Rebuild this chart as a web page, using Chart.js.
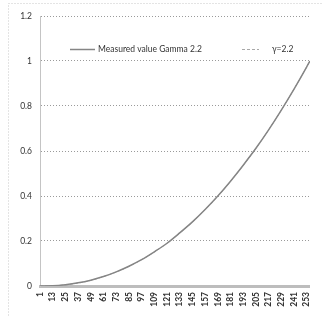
<!DOCTYPE html>
<html>
<head>
<meta charset="utf-8">
<script src="https://cdn.jsdelivr.net/npm/chart.js@4"></script>
<style>
  html, body { margin: 0; padding: 0; background: #fff; }
  #wrap { position: relative; width: 323px; height: 316px; }
</style>
</head>
<body>
<div id="wrap"><canvas id="gammaChart" width="323" height="316"></canvas></div>
<script>
const inputLevels = [1, 13, 25, 37, 49, 61, 73, 85, 97, 109, 121, 133, 145, 157, 169, 181, 193, 205, 217, 229, 241, 253, 256];
const measuredValues = [0, 0.001, 0.006, 0.014, 0.026, 0.042, 0.063, 0.088, 0.117, 0.152, 0.19, 0.236, 0.285, 0.34, 0.4, 0.466, 0.537, 0.612, 0.694, 0.782, 0.875, 0.974, 1];
const gammaValues = [0, 0.001, 0.005, 0.013, 0.025, 0.042, 0.062, 0.087, 0.117, 0.151, 0.19, 0.235, 0.284, 0.339, 0.399, 0.465, 0.536, 0.612, 0.694, 0.782, 0.875, 0.974, 1];
const xTickLabels = [1, 13, 25, 37, 49, 61, 73, 85, 97, 109, 121, 133, 145, 157, 169, 181, 193, 205, 217, 229, 241, 253];
const yTickLabels = [0, 0.2, 0.4, 0.6, 0.8, 1, 1.2];

const FONT = 'Lato, "DejaVu Sans", sans-serif';

// dotted outer frame like the Excel chart area
const framePlugin = {
    id: 'frame',
    beforeDraw(chart) {
        const ctx = chart.ctx;
        ctx.save();
        ctx.strokeStyle = '#c8c8c8';
        ctx.lineWidth = 1;
        ctx.setLineDash([1, 2]);
        ctx.strokeRect(8.5, 3.5, 330, 330);
        ctx.restore();
    }
};

// legend drawn inside the plot area
const insideLegend = {
    id: 'insideLegend',
    afterDraw(chart) {
        const ctx = chart.ctx;
        const y = 49;
        const items = [
            { ds: chart.data.datasets[0], x: 70, len: 25, gap: 3 },
            { ds: chart.data.datasets[1], x: 242, len: 17, gap: 13 }
        ];
        ctx.save();
        ctx.font = '8.5px ' + FONT;
        ctx.textBaseline = 'middle';
        items.forEach(it => {
            ctx.strokeStyle = it.ds.borderColor;
            ctx.lineWidth = it.ds.borderWidth;
            ctx.setLineDash(it.ds.borderDash || []);
            ctx.beginPath();
            ctx.moveTo(it.x, y + 0.5);
            ctx.lineTo(it.x + it.len, y + 0.5);
            ctx.stroke();
            ctx.fillStyle = '#333';
            ctx.fillText(it.ds.label, it.x + it.len + it.gap, y);
        });
        ctx.restore();
    }
};

new Chart(document.getElementById('gammaChart'), {
    type: 'line',
    data: {
        datasets: [{
            label: 'Measured value Gamma 2.2',
            data: inputLevels.map((x, i) => ({ x: x, y: measuredValues[i] })),
            borderColor: '#858585',
            borderWidth: 1.5,
            pointRadius: 0,
            cubicInterpolationMode: 'monotone',
            fill: false
        }, {
            label: 'γ=2.2',
            data: inputLevels.map((x, i) => ({ x: x, y: gammaValues[i] })),
            borderColor: '#a8a8a8',
            borderWidth: 1,
            borderDash: [3, 2],
            pointRadius: 0,
            cubicInterpolationMode: 'monotone',
            fill: false
        }]
    },
    options: {
        responsive: false,
        animation: false,
        layout: { padding: { top: 16, right: 6, bottom: 0, left: 0 } },
        plugins: { legend: { display: false }, tooltip: { enabled: false } },
        scales: {
            x: {
                type: 'linear',
                min: 1,
                max: 256,
                afterBuildTicks: s => { s.ticks = xTickLabels.map(v => ({ value: v })); },
                afterFit: s => { s.height = 30; },
                grid: { display: false, drawTicks: false },
                border: { color: '#bdbdbd', width: 3 },
                ticks: {
                    autoSkip: false,
                    minRotation: 90,
                    maxRotation: 90,
                    padding: 6,
                    color: '#333',
                    font: { family: FONT, size: 8.5, weight: 'bold' }
                }
            },
            y: {
                min: 0,
                max: 1.2,
                afterBuildTicks: s => { s.ticks = yTickLabels.map(v => ({ value: v })); },
                afterFit: s => { s.width = 40; },
                grid: { color: '#9a9a9a', lineWidth: 1, drawTicks: false },
                border: { color: '#c4c4c4', dash: [1, 2] },
                ticks: {
                    padding: 8,
                    color: '#333',
                    font: { family: FONT, size: 8.5 },
                    callback: v => String(Math.round(v * 10) / 10)
                }
            }
        }
    },
    plugins: [framePlugin, insideLegend]
});
</script>
</body>
</html>
